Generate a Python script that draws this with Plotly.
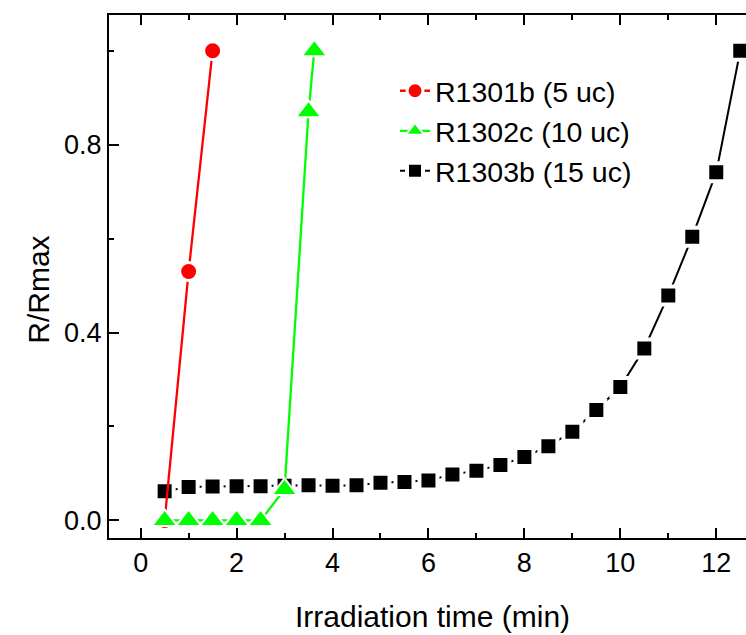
import plotly.graph_objects as go

# ---- data ----
x_5uc = [0.5, 1.0, 1.5]
y_5uc = [0.0, 0.53, 1.0]

x_10uc = [0.5, 1.0, 1.5, 2.0, 2.5, 3.0, 3.5, 3.62]
y_10uc = [0.0, 0.0, 0.0, 0.0, 0.0, 0.066, 0.87, 1.0]

x_15uc = [0.5, 1.0, 1.5, 2.0, 2.5, 3.0, 3.5, 4.0, 4.5, 5.0, 5.5, 6.0, 6.5,
          7.0, 7.5, 8.0, 8.5, 9.0, 9.5, 10.0, 10.5, 11.0, 11.5, 12.0, 12.5]
y_15uc = [0.062, 0.071, 0.072, 0.073, 0.073, 0.074, 0.075, 0.074, 0.075, 0.080,
          0.082, 0.085, 0.098, 0.106, 0.118, 0.135, 0.158, 0.189, 0.235, 0.284,
          0.366, 0.479, 0.604, 0.741, 1.0]

names = ["R1301b (5 uc)", "R1302c (10 uc)", "R1303b (15 uc)"]

xticks = [0, 2, 4, 6, 8, 10, 12]
yticks = [0.0, 0.4, 0.8]

FONT = "Arial, Liberation Sans, sans-serif"

fig = go.Figure()

# black drawn first, then red, then green (legend order via legendrank)
fig.add_trace(go.Scatter(
    x=x_15uc, y=y_15uc, name=names[2], mode="lines+markers", legendrank=3,
    line=dict(color="black", width=2),
    marker=dict(symbol="square", size=18, color="black",
                line=dict(color="white", width=4)),
))
fig.add_trace(go.Scatter(
    x=x_5uc, y=y_5uc, name=names[0], mode="lines+markers", legendrank=1,
    line=dict(color="#ff0000", width=2.3),
    marker=dict(symbol="circle", size=18, color="#ff0000",
                line=dict(color="white", width=3)),
))
fig.add_trace(go.Scatter(
    x=x_10uc, y=y_10uc, name=names[1], mode="lines+markers", legendrank=2,
    line=dict(color="#00ff00", width=2.3),
    marker=dict(symbol="triangle-up", size=22, color="#00ff00",
                line=dict(color="white", width=2)),
))

fig.update_xaxes(
    range=[-0.66, 12.62], tickvals=xticks, ticktext=[str(v) for v in xticks],
    ticks="inside", ticklen=10, tickwidth=2, tickcolor="black",
    minor=dict(dtick=1, tick0=0, ticks="inside", ticklen=5, tickwidth=2, tickcolor="black"),
    showline=True, linewidth=2, linecolor="black", mirror="ticks",
    showgrid=False, zeroline=False,
    tickfont=dict(family=FONT, size=27, color="black"),
)
fig.update_yaxes(
    range=[-0.0374, 1.076], tickvals=yticks, ticktext=["%.1f" % v for v in yticks],
    ticks="inside", ticklen=10, tickwidth=2, tickcolor="black",
    minor=dict(dtick=0.2, tick0=0, ticks="inside", ticklen=5, tickwidth=2, tickcolor="black"),
    showline=True, linewidth=2, linecolor="black",
    showgrid=False, zeroline=False,
    tickfont=dict(family=FONT, size=27, color="black"),
)

fig.update_layout(
    width=746, height=635,
    margin=dict(l=109, r=0, t=15, b=97),
    plot_bgcolor="white", paper_bgcolor="white",
    showlegend=True,
    legend=dict(x=0.449, y=0.903, xanchor="left", yanchor="top",
                bgcolor="rgba(0,0,0,0)", borderwidth=0,
                font=dict(family=FONT, size=28.5, color="black")),
    annotations=[
        dict(text="Irradiation time (min)", xref="paper", yref="paper",
             x=0.508, y=-0.151, xanchor="center", yanchor="middle",
             showarrow=False, font=dict(family=FONT, size=30, color="black")),
        dict(text="R/Rmax", xref="paper", yref="paper",
             x=-0.112, y=0.474, xanchor="center", yanchor="middle", textangle=-90,
             showarrow=False, font=dict(family=FONT, size=30, color="black")),
    ],
)

fig.write_html("out.html")
